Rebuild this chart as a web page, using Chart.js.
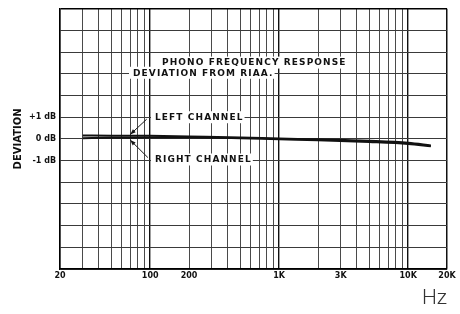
<!DOCTYPE html>
<html><head><meta charset="utf-8">
<script src="https://cdn.jsdelivr.net/npm/chart.js@4/dist/chart.umd.min.js"></script>
<style>html,body{margin:0;padding:0;background:#fff}#wrap{width:460px;height:314px;position:relative}</style>
</head><body><div id="wrap"><canvas id="c"></canvas></div>
<script>
const frequencies = [30, 50, 100, 200, 500, 1000, 2000, 5000, 10000, 15000];
const leftChannel = [0.16, 0.15, 0.14, 0.11, 0.07, 0.02, -0.02, -0.09, -0.18, -0.30];
const rightChannel = [0.03, 0.05, 0.07, 0.07, 0.03, -0.02, -0.06, -0.14, -0.23, -0.34];
const gridFrequencies = [20,30,40,50,60,70,80,90,100,200,300,400,500,600,700,800,900,1000,2000,3000,4000,5000,6000,7000,8000,9000,10000,20000];
const xTickLabels = {20:'20',100:'100',200:'200',1000:'1K',3000:'3K',10000:'10K',20000:'20K'};
const yTickLabels = {'1':'+1 dB','0':'0 dB','-1':'-1 dB'};
const titleLines = ['PHONO FREQUENCY RESPONSE','DEVIATION FROM RIAA.'];
const seriesLabels = ['LEFT CHANNEL','RIGHT CHANNEL'];

Chart.defaults.font.family = '"DejaVu Sans", sans-serif';

const annotate = {
  id: 'annotate',
  beforeDatasetsDraw(chart) {
    const {ctx, scales: {x, y}} = chart;
    ctx.save();
    ctx.font = 'bold 9px "DejaVu Sans"';
    ctx.letterSpacing = '1.1px';
    ctx.textBaseline = 'middle';
    ctx.textAlign = 'left';
    const label = (text, f, v) => {
      const px = x.getPixelForValue(f), py = y.getPixelForValue(v);
      const w = ctx.measureText(text).width;
      ctx.fillStyle = '#fff';
      ctx.fillRect(px - 4, py - 6, w + 5, 12);
      ctx.fillStyle = '#111';
      ctx.fillText(text, px, py + 0.5);
    };
    label(titleLines[0], 123.5, 3.52);
    label(titleLines[1], 73.6, 3.05);
    label(seriesLabels[0], 109, 1.0);
    label(seriesLabels[1], 109, -0.95);
    const arrow = (f0, v0, f1, v1) => {
      const x0 = x.getPixelForValue(f0), y0 = y.getPixelForValue(v0);
      const x1 = x.getPixelForValue(f1), y1 = y.getPixelForValue(v1);
      ctx.strokeStyle = '#151515';
      ctx.lineWidth = 1;
      ctx.beginPath(); ctx.moveTo(x0, y0); ctx.lineTo(x1, y1); ctx.stroke();
      const a = Math.atan2(y1 - y0, x1 - x0), L = 6, s = 0.35;
      ctx.fillStyle = '#151515';
      ctx.beginPath();
      ctx.moveTo(x1, y1);
      ctx.lineTo(x1 - L * Math.cos(a - s), y1 - L * Math.sin(a - s));
      ctx.lineTo(x1 - L * Math.cos(a + s), y1 - L * Math.sin(a + s));
      ctx.closePath(); ctx.fill();
    };
    arrow(94, 0.91, 70, 0.2);
    arrow(96, -0.86, 70, -0.05);
    ctx.restore();
  }
};

const isDecade = v => [20, 100, 1000, 10000, 20000].includes(v);

new Chart(document.getElementById('c'), {
  type: 'line',
  data: {
    datasets: [
      { label: seriesLabels[0], data: frequencies.map((f, i) => ({x: f, y: leftChannel[i]})),
        borderColor: '#111', borderWidth: 2, pointRadius: 0, fill: false, cubicInterpolationMode: 'monotone' },
      { label: seriesLabels[1], data: frequencies.map((f, i) => ({x: f, y: rightChannel[i]})),
        borderColor: '#111', borderWidth: 2, pointRadius: 0, fill: false, cubicInterpolationMode: 'monotone' }
    ]
  },
  options: {
    responsive: true,
    maintainAspectRatio: false,
    animation: false,
    layout: { padding: { top: 5, right: 13, left: 0, bottom: 0 } },
    plugins: { legend: { display: false }, tooltip: { enabled: false } },
    scales: {
      x: {
        type: 'logarithmic', min: 20, max: 20000,
        afterBuildTicks: s => { s.ticks = gridFrequencies.map(v => ({value: v})); },
        afterFit: s => { s.height = 45; },
        ticks: { autoSkip: false, maxRotation: 0, minRotation: 0, padding: 2, color: '#111',
                 font: { size: 8, weight: 'bold' }, callback: v => xTickLabels[v] ?? '' },
        grid: { drawTicks: false,
                color: c => (c.tick && isDecade(c.tick.value)) ? '#111' : '#4a4a4a',
                lineWidth: c => (c.tick && c.tick.value === 20000) ? 1.5 : (c.tick && isDecade(c.tick.value) ? 1.4 : 1) },
        border: { display: true, color: '#000', width: 1.5 },
        title: { display: true, text: 'Hz', align: 'end', color: '#333',
                 font: { family: 'Roboto', size: 21, weight: '300' }, padding: { top: 0, bottom: 3 } }
      },
      y: {
        type: 'linear', min: -6, max: 6,
        afterFit: s => { s.width = 60; },
        ticks: { stepSize: 1, padding: 4, color: '#111', font: { size: 8, weight: 'bold' },
                 callback: v => yTickLabels[String(v)] ?? '' },
        grid: { drawTicks: false,
                color: c => (c.tick && c.tick.value === 6) ? '#000' : '#3a3a3a',
                lineWidth: c => (c.tick && c.tick.value === 6) ? 1.5 : 1 },
        border: { display: true, color: '#000', width: 1.5 },
        title: { display: true, text: 'DEVIATION', color: '#111',
                 font: { size: 10, weight: 'bold' }, padding: { top: 12, bottom: 0 } }
      }
    }
  },
  plugins: [annotate]
});
</script>
</body></html>
